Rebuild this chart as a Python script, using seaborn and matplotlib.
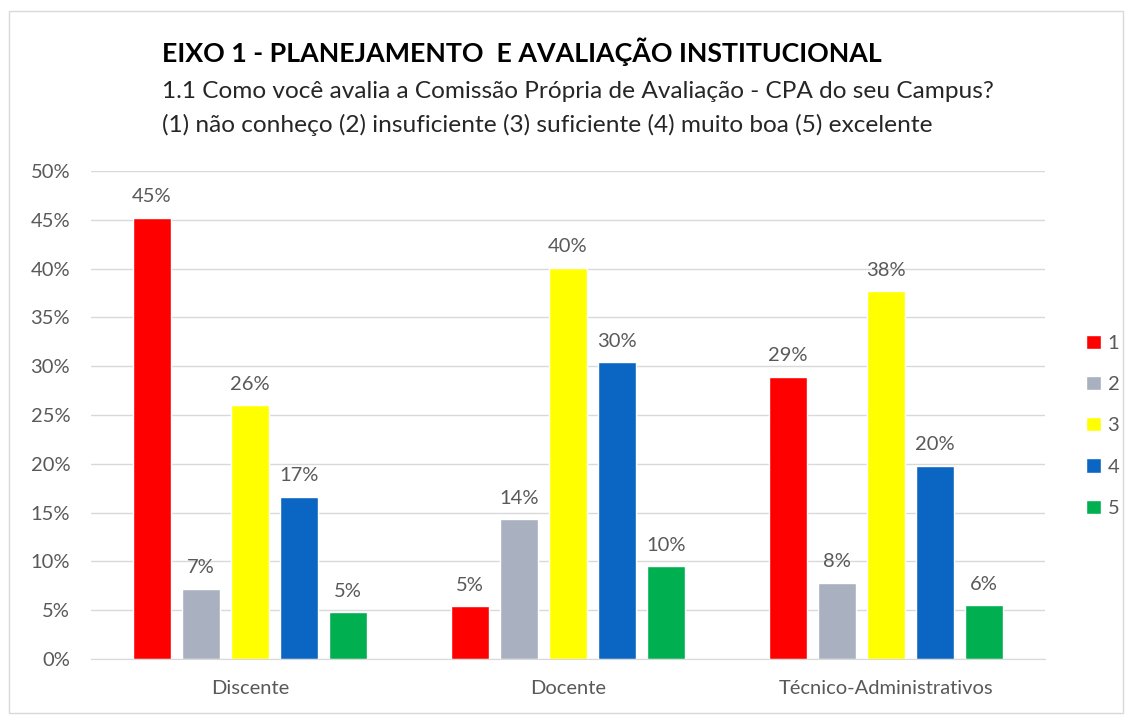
import pandas as pd
import numpy as np
import matplotlib.pyplot as plt
import seaborn as sns
from matplotlib.ticker import FuncFormatter

# values (percent)
groups = ['Discente', 'Docente', 'Técnico-Administrativos']
ratings = ['1', '2', '3', '4', '5']
discente = [45.2, 7.2, 26.0, 16.6, 4.8]
docente = [5.4, 14.3, 40.1, 30.4, 9.5]
tecnico = [28.9, 7.8, 37.7, 19.8, 5.5]
colors = ['#FF0000', '#A9B1C0', '#FFFF00', '#0A66C2', '#00B050']

title = 'EIXO 1 - PLANEJAMENTO  E AVALIAÇÃO INSTITUCIONAL'
subtitle1 = '1.1 Como você avalia a Comissão Própria de Avaliação - CPA do seu Campus?'
subtitle2 = '(1) não conheço (2) insuficiente (3) suficiente (4) muito boa (5) excelente'

rows = []
for g, vals in zip(groups, [discente, docente, tecnico]):
    for r, v in zip(ratings, vals):
        rows.append({'Grupo': g, 'Nota': r, 'Valor': v})
df = pd.DataFrame(rows)

sns.set_style('white')
plt.rcParams['font.family'] = ['Lato', 'DejaVu Sans']

fig = plt.figure(figsize=(11.3, 7.16), dpi=100)
ax = fig.add_axes([91 / 1130, (716 - 659) / 716, (1045 - 91) / 1130, (659 - 171) / 716])

sns.barplot(data=df, x='Grupo', y='Valor', hue='Nota', order=groups, hue_order=ratings,
            palette=colors, width=0.77, gap=0.22, saturation=1, ax=ax, legend=True)

for c in ax.containers:
    ax.bar_label(c, labels=[f'{v:.0f}%' for v in c.datavalues], padding=9,
                 fontsize=14.5, color='#595959')

ax.set_ylim(0, 50)
ax.set_yticks(np.arange(0, 51, 5))
ax.yaxis.set_major_formatter(FuncFormatter(lambda v, p: f'{v:.0f}%'))
ax.set_xlim(-0.5, 2.5)
ax.grid(axis='y', color='#D9D9D9', linewidth=1)
ax.set_axisbelow(True)
for s in ['top', 'right', 'left']:
    ax.spines[s].set_visible(False)
ax.spines['bottom'].set_color('#D9D9D9')
ax.tick_params(axis='y', labelsize=14.5, labelcolor='#595959', length=0, pad=15)
ax.tick_params(axis='x', labelsize=14.5, labelcolor='#595959', length=0, pad=15)
ax.set_xlabel('')
ax.set_ylabel('')

leg = ax.legend(loc='center left', bbox_to_anchor=(1.035, 0.478), borderaxespad=0,
                frameon=False, fontsize=14.5, handlelength=0.7, handleheight=0.7,
                labelspacing=1.2, handletextpad=0.35)
for t in leg.get_texts():
    t.set_color('#595959')

fig.text(162 / 1130, 1 - 52 / 716, title, fontsize=19.3, fontweight='bold', color='black',
         va='center', ha='left')
fig.text(162 / 1130, 1 - 91 / 716, subtitle1, fontsize=17.6, color='#262626', va='center', ha='left')
fig.text(162 / 1130, 1 - 125 / 716, subtitle2, fontsize=17.6, color='#262626', va='center', ha='left')

# light border around the chart area
fig.patches.append(plt.Rectangle((0.008, 0.004), 0.986, 0.98, transform=fig.transFigure,
                                 fill=False, edgecolor='#D9D9D9', linewidth=1))

fig.savefig('out.png', dpi=100)
